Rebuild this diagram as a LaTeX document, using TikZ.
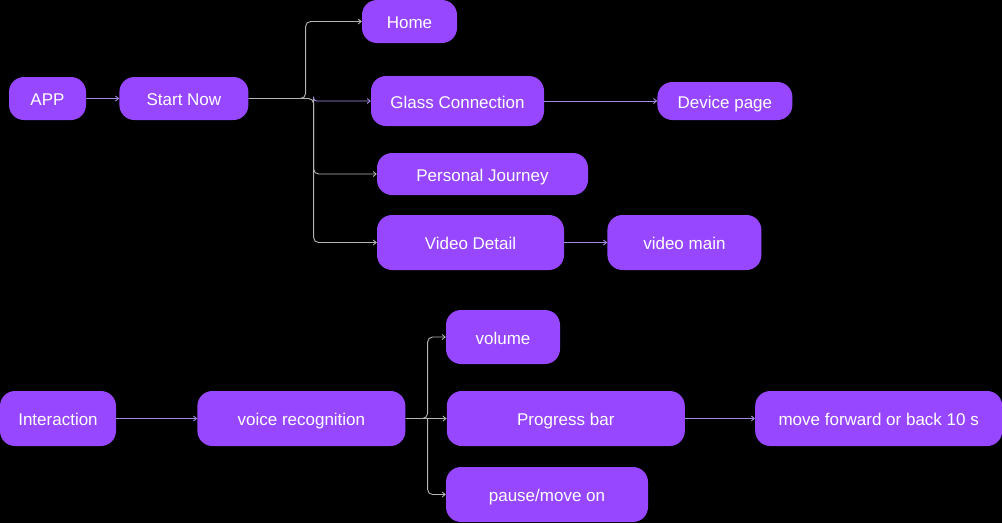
\documentclass[tikz,border=0pt]{standalone}
\usepackage{fontspec}
\setmainfont{Liberation Sans}
\usetikzlibrary{arrows.meta,positioning,calc}
\definecolor{figpurple}{HTML}{9747FF}
\definecolor{linkpurple}{HTML}{A58BE6}
\definecolor{linkgray}{HTML}{B4B4B4}

\begin{document}
\begin{tikzpicture}[
x=1pt, y=-1pt,
box/.style={fill=figpurple, rounded corners=15pt, text=white, align=center, inner sep=0pt, minimum height=43pt, text height=14.2pt, text depth=0pt, font=\fontsize{17}{20}\selectfont},
arrow/.style={-{Straight Barb[length=3pt,width=5pt]}, line width=0.9pt, draw=linkpurple},
fork/.style={arrow, draw=linkgray, rounded corners=5pt}
]
\fill[black] (0,0) rectangle (1002,523);
\useasboundingbox (0,0) rectangle (1002,523);

% app flow
\node[box, minimum width=77pt] (app) at (47.5,98.5) {APP};
\node[box, minimum width=129pt, right=33pt of app] (start) {Start Now};
\node[box, minimum width=95pt] (home) at (409.5,21.5) {Home};
\node[box, minimum width=173pt, minimum height=50pt] (glass) at (457.5,101) {Glass Connection};
\node[box, minimum width=135pt, minimum height=38pt, right=113pt of glass] (device) {Device page};
\node[box, minimum width=211pt, minimum height=42pt] (journey) at (482.5,174) {Personal Journey};
\node[box, minimum width=187pt, minimum height=55pt] (detail) at (470.5,242.5) {Video Detail};
\node[box, minimum width=154pt, minimum height=55pt, right=43pt of detail] (vmain) {video main};

% interaction flow
\node[box, minimum width=116pt, minimum height=55pt] (inter) at (58,418.5) {Interaction};
\node[box, minimum width=208pt, minimum height=55pt, right=81pt of inter] (voice) {voice recognition};
\node[box, minimum width=238pt, minimum height=55pt, right=41pt of voice] (prog) {Progress bar};
\node[box, minimum width=247pt, minimum height=55pt, right=70pt of prog] (skip) {move forward or back 10 s};
\node[box, minimum width=114pt, minimum height=54pt] (volume) at (503,337) {volume};
\node[box, minimum width=202pt, minimum height=55pt] (pause) at (547,494.5) {pause/move on};

\coordinate (jt) at ($(start.east)+(65,0)$);
\coordinate (jv) at ($(voice.east)+(22,0)$);

\draw[arrow] (app) -- (start);
\draw[fork] (start.east) -- ++(57,0) |- (home.west);
\draw[fork] (start.east) -- (jt) |- (journey.west);
\draw[fork] (jt) |- (detail.west);
\draw[arrow, rounded corners=3pt] (jt) |- (glass.west);
\draw[arrow] (glass) -- (device);
\draw[arrow] (detail) -- (vmain);

\draw[arrow] (inter) -- (voice);
\draw[fork] (voice.east) -- (jv) |- (volume.west);
\draw[fork] (jv) |- (pause.west);
\draw[fork] (voice) -- (prog);
\draw[arrow] (prog) -- (skip);
\end{tikzpicture}
\end{document}
